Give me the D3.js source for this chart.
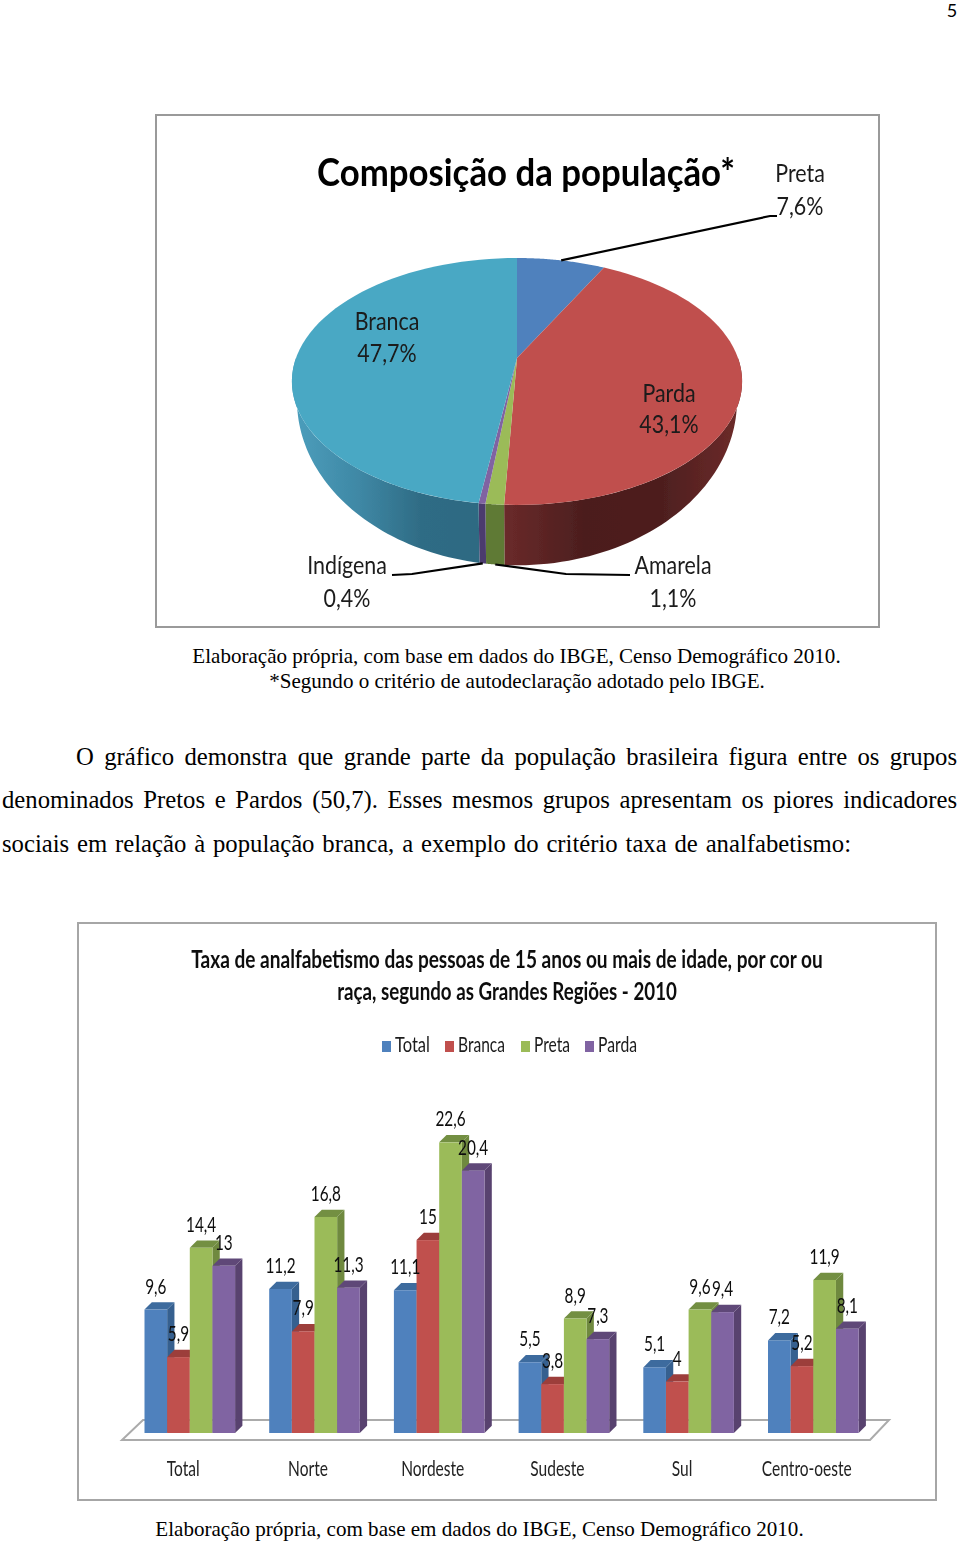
<!DOCTYPE html>
<html>
<head>
<meta charset="utf-8">
<script src="https://cdn.jsdelivr.net/npm/d3@7"></script>
<style>
  html, body { margin: 0; padding: 0; background: #fff; }
  svg { display: block; }
  .serif { font-family: "Liberation Serif", serif; fill: #000; }
  .chart text { font-family: Lato, sans-serif; fill: #1a1a1a; }
</style>
</head>
<body>
<div id="page"></div>
<script>
// pie data
const pieNames = ['Preta', 'Parda', 'Amarela', 'Indígena', 'Branca'];
const pieValues = [7.6, 43.1, 1.1, 0.4, 47.7];

// bar data
const regions = ['Total', 'Norte', 'Nordeste', 'Sudeste', 'Sul', 'Centro-oeste'];
const seriesNames = ['Total', 'Branca', 'Preta', 'Parda'];
const totalValues = [9.6, 11.2, 11.1, 5.5, 5.1, 7.2];
const brancaValues = [5.9, 7.9, 15, 3.8, 4, 5.2];
const pretaValues = [14.4, 16.8, 22.6, 8.9, 9.6, 11.9];
const pardaValues = [13, 11.3, 20.4, 7.3, 9.4, 8.1];

const svg = d3.select('#page').append('svg').attr('width', 960).attr('height', 1543);
const defs = svg.append('defs');
defs.append('filter').attr('id', 'soft').append('feGaussianBlur').attr('stdDeviation', 0.35);

const comma = (v) => String(v).replace('.', ',');

// squeeze a text horizontally around its anchor (the originals are scaled screenshots)
function scaleText (node, k) {
  const t = d3.select(node);
  const x = +t.attr('x') || 0;
  const y = +t.attr('y') || 0;
  t.attr('x', 0).attr('y', 0).attr('transform', 'translate(' + x + ',' + y + ') scale(' + k + ',1)');
}
function fit (sel, width) {
  sel.each(function () {
    scaleText(this, width / this.getComputedTextLength());
  });
  return sel;
}
function squeeze (sel, factor) {
  sel.each(function () {
    scaleText(this, factor);
  });
}

function drawPage () {
  svg.append('text').attr('x', 952).attr('y', 17).attr('text-anchor', 'middle')
    .style('font-family', 'Lato, sans-serif').style('font-size', '18px').text('5');

  const serif = svg.append('g').attr('class', 'serif').style('font-size', '20.5px');
  const caption = (x, y, s, w) => fit(serif.append('text').attr('x', x).attr('y', y).attr('text-anchor', 'middle').text(s), w);
  caption(516.5, 663, 'Elaboração própria, com base em dados do IBGE, Censo Demográfico 2010.', 649);
  caption(517, 688, '*Segundo o critério de autodeclaração adotado pelo IBGE.', 496);
  caption(479.5, 1536, 'Elaboração própria, com base em dados do IBGE, Censo Demográfico 2010.', 649);

  const body = svg.append('g').attr('class', 'serif').style('font-size', '24.7px');
  const para = [
    ['O gráfico demonstra que grande parte da população brasileira figura entre os grupos', 76, 765, 957],
    ['denominados Pretos e Pardos (50,7). Esses mesmos grupos apresentam os piores indicadores', 2, 808, 957],
    ['sociais em relação à população branca, a exemplo do critério taxa de analfabetismo:', 2, 852, 851]
  ];
  para.forEach((p) => {
    const t = body.append('text').attr('x', p[1]).attr('y', p[2]).text(p[0]);
    const gaps = p[0].split(' ').length - 1;
    t.style('word-spacing', (p[3] - p[1] - t.node().getComputedTextLength()) / gaps + 'px');
  });
}

function drawPie () {
  const g = svg.append('g').attr('class', 'chart');
  g.append('rect').attr('x', 156).attr('y', 115).attr('width', 723).attr('height', 512)
    .attr('fill', '#fff').attr('stroke', '#9a9a9a').attr('stroke-width', 2);

  const colors = d3.scaleOrdinal().domain(pieNames)
    .range(['#4f81bd', '#c0504d', '#9bbb59', '#8064a2', '#4aa8c4']);

  // tilted disc: perspective projection of a circle, back rim is squeezed
  const p = 0.19;
  const project = (t, cy, r, h) => {
    const u = Math.sin(t), v = -Math.cos(t), s = 1 / (1 - p * v);
    return [517 + r * u * s, cy + h * v * s];
  };
  const topRim = (t) => project(t, 358, 221, 119);
  const lowRim = (t) => project(t, 369, 216, 159);

  const slices = d3.pie().sort(null).value((d, i) => pieValues[i])(pieNames);
  const samples = (a, b) => d3.range(0, 61).map((i) => a + (b - a) * i / 60);
  const line = d3.line();

  // wall shading per slice
  const wallStops = {
    Parda: ['#6a2a2a', '#4c1e1e', '#4e1f1f', '#6e2b2a'],
    Amarela: ['#5f7a35', '#5f7a35'],
    'Indígena': ['#4b3a6e', '#4b3a6e'],
    Branca: ['#4b9dbb', '#3f88a5', '#2f6c85', '#2f6a82']
  };
  Object.keys(wallStops).forEach((name, k) => {
    const grad = defs.append('linearGradient').attr('id', 'wall' + k)
      .attr('gradientUnits', 'userSpaceOnUse')
      .attr('x1', name === 'Parda' ? 505 : 297).attr('x2', name === 'Parda' ? 742 : 482);
    wallStops[name].forEach((c, i, a) => {
      grad.append('stop').attr('offset', i / (a.length - 1)).attr('stop-color', c);
    });
  });

  // only the front half of the rim has a visible wall
  const frontOnly = slices.filter((d) => d.endAngle > Math.PI / 2 && d.startAngle < Math.PI * 1.5);
  const discs = g.append('g').attr('filter', 'url(#soft)');
  discs.selectAll('path.wall').data(frontOnly).enter().append('path').attr('class', 'wall')
    .attr('d', (d) => {
      const ts = samples(Math.max(d.startAngle, Math.PI / 2), Math.min(d.endAngle, Math.PI * 1.5));
      return line(ts.map(topRim).concat(ts.slice().reverse().map(lowRim))) + 'Z';
    })
    .attr('fill', (d) => 'url(#wall' + Object.keys(wallStops).indexOf(d.data) + ')');

  discs.selectAll('path.face').data(slices).enter().append('path').attr('class', 'face')
    .attr('d', (d) => line([[517, 358]].concat(samples(d.startAngle, d.endAngle).map(topRim))) + 'Z')
    .attr('fill', (d) => colors(d.data));

  // leader lines start from the middle of their slice
  const mid = (name) => {
    const d = slices[pieNames.indexOf(name)];
    return (d.startAngle + d.endAngle) / 2;
  };
  const leaders = [
    [topRim(mid('Preta')), [770, 216], [777, 216]],
    [lowRim(mid('Indígena')), [412, 574], [392, 575]],
    [lowRim(mid('Amarela')), [566, 574], [630, 575]]
  ];
  g.selectAll('path.leader').data(leaders).enter().append('path').attr('class', 'leader')
    .attr('d', line).attr('fill', 'none').attr('stroke', '#000').attr('stroke-width', 2.2);

  const labelPos = {
    Preta: [800, 182, 215],
    Parda: [669, 402, 433],
    Amarela: [673, 574, 607],
    'Indígena': [347, 574, 607],
    Branca: [387, 330, 362]
  };
  const labels = g.append('g').attr('filter', 'url(#soft)');
  pieNames.forEach((name, i) => {
    const pos = labelPos[name];
    const rows = [[name, pos[1]], [comma(pieValues[i]) + '%', pos[2]]];
    rows.forEach((r) => {
      labels.append('text').attr('class', 'plabel').attr('x', pos[0]).attr('y', r[1])
        .attr('text-anchor', 'middle').style('font-size', '25.5px').text(r[0]);
    });
  });
  squeeze(labels.selectAll('text.plabel'), 0.84);

  fit(labels.append('text').attr('x', 526).attr('y', 186).attr('text-anchor', 'middle')
    .style('font-size', '39px').style('font-weight', 700).style('fill', '#000')
    .text('Composição da população*'), 418);
}

function drawBars () {
  const g = svg.append('g').attr('class', 'chart');
  g.append('rect').attr('x', 78).attr('y', 923).attr('width', 858).attr('height', 577)
    .attr('fill', '#fff').attr('stroke', '#a6a6a6').attr('stroke-width', 2);

  const soft = g.append('g').attr('filter', 'url(#soft)');
  const titleStyle = (t) => t.attr('text-anchor', 'middle').style('font-size', '24px')
    .style('font-weight', 700).style('fill', '#111');
  fit(soft.append('text').attr('x', 507).attr('y', 968).call(titleStyle)
    .text('Taxa de analfabetismo das pessoas de 15 anos ou mais de idade, por cor ou'), 632);
  fit(soft.append('text').attr('x', 507).attr('y', 1000).call(titleStyle)
    .text('raça, segundo as Grandes Regiões - 2010'), 340);

  const seriesValues = [totalValues, brancaValues, pretaValues, pardaValues];
  const front = d3.scaleOrdinal().domain(seriesNames).range(['#4f81bd', '#c0504d', '#9bbb59', '#8064a2']);
  const side = d3.scaleOrdinal().domain(seriesNames).range(['#36608f', '#8f3a38', '#6f893f', '#58426f']);
  const topFace = d3.scaleOrdinal().domain(seriesNames).range(['#3d6b9e', '#9c3e3b', '#738f42', '#5f4878']);

  // legend
  const legendX = d3.scaleOrdinal().domain(seriesNames).range([382, 445, 521, 585]);
  const legendW = d3.scaleOrdinal().domain(seriesNames).range([35, 47, 36, 39]);
  const legend = soft.selectAll('g.legend').data(seriesNames).enter().append('g').attr('class', 'legend')
    .attr('transform', (d) => 'translate(' + legendX(d) + ',1040)');
  legend.append('rect').attr('width', 9).attr('height', 11).attr('y', 1).attr('fill', (d) => front(d));
  legend.append('text').attr('x', 13).attr('y', 12).style('font-size', '21px')
    .text((d) => d).each(function (d) { fit(d3.select(this), legendW(d)); });

  const x0 = d3.scaleBand().domain(regions).range([144.5, 858.6]).paddingInner(0.2735).paddingOuter(0);
  const x1 = d3.scaleBand().domain(seriesNames).range([0, x0.bandwidth()]);
  const y = d3.scaleLinear().domain([0, 25]).range([1433, 1111.5]);
  const depth = 7.3;

  // floor
  g.append('path')
    .attr('d', d3.line()([[122, 1440], [870, 1440], [889, 1420], [143, 1420]]) + 'Z')
    .attr('fill', '#fff').attr('stroke', '#ababab').attr('stroke-width', 2)
    .attr('filter', 'url(#soft)');

  const bars = regions.flatMap((region, r) => seriesNames.map((name, s) => {
    return {region: region, name: name, value: seriesValues[s][r]};
  }));
  const barX = (d) => x0(d.region) + x1(d.name);
  const w = x1.bandwidth();

  const bar = g.selectAll('g.bar').data(bars).enter().append('g').attr('class', 'bar');
  bar.append('path').attr('fill', (d) => side(d.name))
    .attr('d', (d) => {
      const a = barX(d) + w;
      return d3.line()([[a, y(d.value)], [a + depth, y(d.value) - depth], [a + depth, y(0) - depth], [a, y(0)]]) + 'Z';
    });
  bar.append('path').attr('fill', (d) => topFace(d.name))
    .attr('d', (d) => {
      const a = barX(d);
      return d3.line()([[a, y(d.value)], [a + depth, y(d.value) - depth], [a + w + depth, y(d.value) - depth], [a + w, y(d.value)]]) + 'Z';
    });
  bar.append('rect').attr('x', barX).attr('y', (d) => y(d.value))
    .attr('width', w).attr('height', (d) => y(0) - y(d.value)).attr('fill', (d) => front(d.name));

  const values = g.append('g').attr('filter', 'url(#soft)');
  values.selectAll('text').data(bars).enter().append('text')
    .attr('x', (d) => barX(d) + w / 2).attr('y', (d) => y(d.value) - 16)
    .attr('text-anchor', 'middle').style('font-size', '21px').style('fill', '#111')
    .text((d) => comma(d.value));
  squeeze(values.selectAll('text'), 0.73);

  const axis = g.append('g').attr('transform', 'translate(-6.5,1476)')
    .call(d3.axisBottom(x0).tickSize(0).tickPadding(0));
  axis.select('.domain').remove();
  axis.selectAll('text').attr('y', 0).attr('dy', 0).style('font-size', '21px').style('fill', '#222');
  axis.attr('filter', 'url(#soft)');
  squeeze(axis.selectAll('text'), 0.74);
}

drawPage();
drawPie();
drawBars();
</script>
</body>
</html>
